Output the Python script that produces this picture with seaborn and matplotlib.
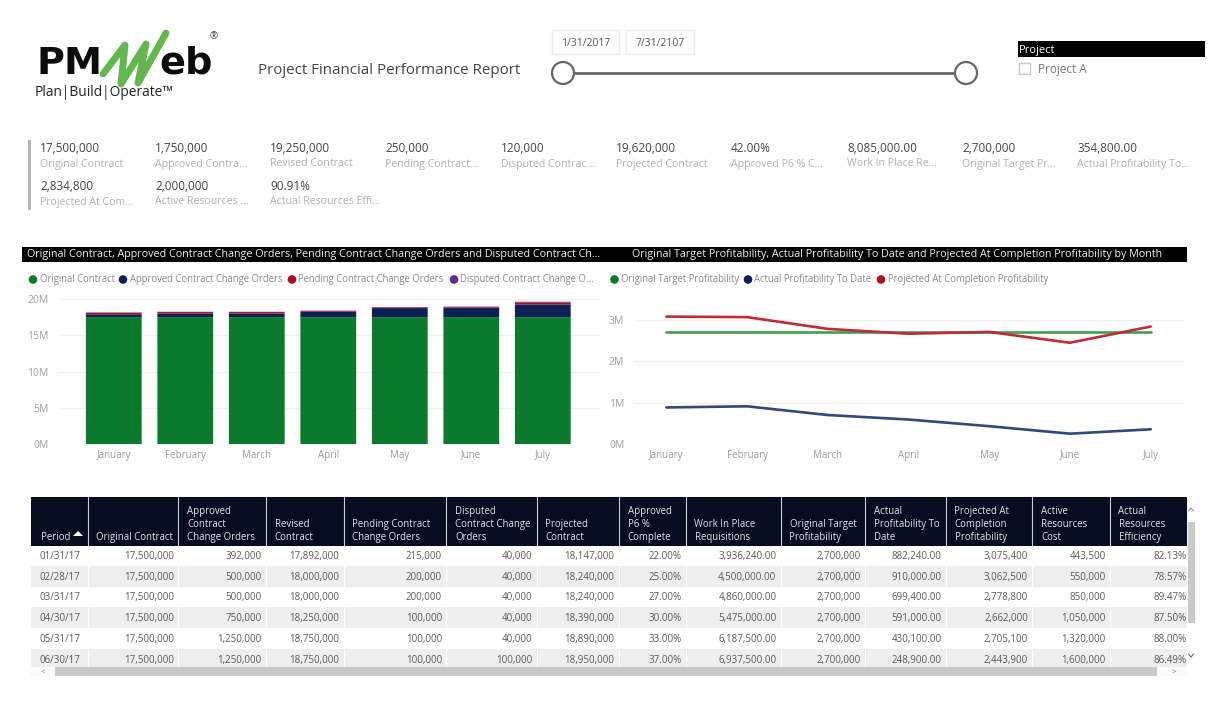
import pandas as pd
import matplotlib
matplotlib.use('Agg')
import matplotlib.pyplot as plt
from matplotlib.patches import Rectangle, Circle, Polygon
from matplotlib.ticker import FuncFormatter
import seaborn as sns

# chart data
months = ['January', 'February', 'March', 'April', 'May', 'June', 'July']
original_contract = [17500000] * 7
approved_co = [392000, 500000, 500000, 750000, 1250000, 1250000, 1750000]
pending_co = [215000, 200000, 200000, 100000, 100000, 100000, 250000]
disputed_co = [40000, 40000, 40000, 40000, 40000, 100000, 120000]

target_profit = [2700000] * 7
actual_profit = [882240, 910000, 699400, 591000, 430100, 248900, 354800]
projected_profit = [3075400, 3062500, 2778800, 2662000, 2705100, 2443900, 2834800]

# KPI cards
kpi_values = ['17,500,000', '1,750,000', '19,250,000', '250,000', '120,000', '19,620,000',
              '42.00%', '8,085,000.00', '2,700,000', '354,800.00',
              '2,834,800', '2,000,000', '90.91%']
kpi_labels = ['Original Contract', 'Approved Contra...', 'Revised Contract', 'Pending Contract...',
              'Disputed Contrac...', 'Projected Contract', 'Approved P6 % C...', 'Work In Place Re...',
              'Original Target Pr...', 'Actual Profitability To...',
              'Projected At Com...', 'Active Resources ...', 'Actual Resources Effi...']

# table
table_headers = ['Period', 'Original Contract', 'Approved\nContract\nChange Orders', 'Revised\nContract',
                 'Pending Contract\nChange Orders', 'Disputed\nContract Change\nOrders', 'Projected\nContract',
                 'Approved\nP6 %\nComplete', 'Work In Place\nRequisitions', 'Original Target\nProfitability',
                 'Actual\nProfitability To\nDate', 'Projected At\nCompletion\nProfitability',
                 'Active\nResources\nCost', 'Actual\nResources\nEfficiency']
table_rows = [
    ['01/31/17', '17,500,000', '392,000', '17,892,000', '215,000', '40,000', '18,147,000', '22.00%',
     '3,936,240.00', '2,700,000', '882,240.00', '3,075,400', '443,500', '82.13%'],
    ['02/28/17', '17,500,000', '500,000', '18,000,000', '200,000', '40,000', '18,240,000', '25.00%',
     '4,500,000.00', '2,700,000', '910,000.00', '3,062,500', '550,000', '78.57%'],
    ['03/31/17', '17,500,000', '500,000', '18,000,000', '200,000', '40,000', '18,240,000', '27.00%',
     '4,860,000.00', '2,700,000', '699,400.00', '2,778,800', '850,000', '89.47%'],
    ['04/30/17', '17,500,000', '750,000', '18,250,000', '100,000', '40,000', '18,390,000', '30.00%',
     '5,475,000.00', '2,700,000', '591,000.00', '2,662,000', '1,050,000', '87.50%'],
    ['05/31/17', '17,500,000', '1,250,000', '18,750,000', '100,000', '40,000', '18,890,000', '33.00%',
     '6,187,500.00', '2,700,000', '430,100.00', '2,705,100', '1,320,000', '88.00%'],
    ['06/30/17', '17,500,000', '1,250,000', '18,750,000', '100,000', '100,000', '18,950,000', '37.00%',
     '6,937,500.00', '2,700,000', '248,900.00', '2,443,900', '1,600,000', '86.49%'],
]

GREEN = '#0a7b2c'
NAVY = '#0b2253'
RED = '#b00a20'
PURPLE = '#5c2d91'
W, H = 1229, 707

sns.set_theme(style='white')
plt.rcParams['font.family'] = ['Open Sans', 'DejaVu Sans']

fig = plt.figure(figsize=(12.29, 7.07), dpi=100)

# page layer in pixel coordinates for the report furniture
page = fig.add_axes([0, 0, 1, 1])
page.set_xlim(0, W)
page.set_ylim(H, 0)
page.axis('off')


def chart_axes(left, top, right, bottom):
    return fig.add_axes([left / W, 1 - bottom / H, (right - left) / W, (bottom - top) / H], facecolor='none')


def box(x0, y0, x1, y1, **kw):
    page.add_patch(Rectangle((x0, y0), x1 - x0, y1 - y0, **kw))


# logo, the green W is a hand drawn swoosh
page.text(36, 74, 'PM', fontsize=27.5, fontweight='bold', color='#0c0c0c', family='DejaVu Sans', va='baseline')
page.text(159, 74, 'eb', fontsize=27.5, fontweight='bold', color='#0c0c0c', family='DejaVu Sans', va='baseline')
page.plot([103, 125, 121, 146, 138, 166], [74, 45, 84, 44, 83, 33], color='#62b84f', lw=5,
          solid_joinstyle='round', solid_capstyle='round', zorder=3)
page.text(209, 37, '®', fontsize=7, color='#444444', ha='left', va='center')
page.text(35, 93, 'Plan|Build|Operate™', fontsize=9.9, color='#222222', va='center')

page.text(258, 70, 'Project Financial Performance Report', fontsize=10.9, color='#444444', va='center')

# date slider
box(552, 30, 619, 54, fc='white', ec='#ececec', lw=1)
box(626, 30, 694, 54, fc='white', ec='#ececec', lw=1)
page.text(585.5, 43, '1/31/2017', fontsize=7.5, color='#555555', ha='center', va='center')
page.text(660, 43, '7/31/2107', fontsize=7.5, color='#555555', ha='center', va='center')
page.plot([563, 966], [73, 73], color='#666666', lw=2)
for cx in (563, 966):
    page.add_patch(Circle((cx, 73), 11, fc='white', ec='#666666', lw=1.6, zorder=3))

# project slicer
box(1018, 41, 1205, 57, fc='black', ec='none')
page.text(1019, 50, 'Project', fontsize=8, color='white', va='center')
box(1019, 63, 1030, 74, fc='white', ec='#c8c8c8', lw=1)
page.text(1038, 69, 'Project A', fontsize=8.5, color='#777777', va='center')

# KPI cards
box(28, 140, 30.5, 210, fc='#b4b4b4', ec='none')
kpi_x = [40, 155, 270, 385, 501, 616, 731, 847, 962, 1077]
for i, (val, lab) in enumerate(zip(kpi_values, kpi_labels)):
    x = kpi_x[i % 10]
    y = 148 if i < 10 else 186
    page.text(x, y, val, fontsize=8.5, color='#444444', va='center')
    page.text(x, y + 16, lab, fontsize=7.6, color='#b0b0b0', va='center')

# chart title bars
box(22, 247, 1187, 262, fc='black', ec='none')
page.text(27, 254.5, 'Original Contract, Approved Contract Change Orders, Pending Contract Change Orders and Disputed Contract Ch...',
          fontsize=7.75, color='#f0f0f0', va='center')
page.text(632, 254.5, 'Original Target Profitability, Actual Profitability To Date and Projected At Completion Profitability by Month',
          fontsize=7.75, color='#f0f0f0', va='center')

# legends
left_legend = [(33, 'Original Contract', GREEN), (123, 'Approved Contract Change Orders', NAVY),
               (292, 'Pending Contract Change Orders', RED), (454, 'Disputed Contract Change O...', PURPLE)]
right_legend = [(614.5, 'Original Target Profitability', GREEN), (748, 'Actual Profitability To Date', NAVY),
                (881, 'Projected At Completion Profitability', RED)]
for x, lab, col in left_legend + right_legend:
    page.add_patch(Circle((x, 279.5), 4.3, fc=col, ec='none'))
    page.text(x + 6.5, 279.5, lab, fontsize=6.85, color='#8a8a8a', va='center')

# stacked columns
ax1 = chart_axes(58, 299, 600, 444)
stack = pd.DataFrame({'month': months, 'Original': original_contract, 'Approved': approved_co,
                      'Pending': pending_co, 'Disputed': disputed_co})
running = pd.Series([0] * 7)
for col, colour in zip(['Original', 'Approved', 'Pending', 'Disputed'], [GREEN, NAVY, RED, PURPLE]):
    sns.barplot(data=stack, x='month', y=col, color=colour, saturation=1, width=0.78, ax=ax1, zorder=2,
                linewidth=0, edgecolor='none', bottom=running.values)
    running = running + stack[col]
# thin segments vanish when bars snap to whole pixels
for p in ax1.patches:
    p.set_snap(False)
ax1.set_xlim(-0.78, 6.8)
ax1.set_ylim(0, 20000000)
ax1.set_yticks([0, 5000000, 10000000, 15000000, 20000000])

# profitability lines
ax2 = chart_axes(634, 299, 1183, 444)
lines = pd.DataFrame({'idx': range(7), 'Original Target Profitability': target_profit,
                      'Actual Profitability To Date': actual_profit,
                      'Projected At Completion Profitability': projected_profit})
long = lines.melt(id_vars='idx', var_name='series', value_name='value')
sns.lineplot(data=long, x='idx', y='value', hue='series', ax=ax2, lw=1.9, legend=False, zorder=2,
             palette={'Original Target Profitability': '#3f9f4f', 'Actual Profitability To Date': '#2f4a78',
                      'Projected At Completion Profitability': '#bf2b37'})
ax2.set_xticks(range(7))
ax2.set_xticklabels(months)
ax2.set_xlim(-0.4, 6.4)
ax2.set_ylim(0, 3500000)
ax2.set_yticks([0, 1000000, 2000000, 3000000])

for ax in (ax1, ax2):
    sns.despine(ax=ax, left=True, bottom=True)
    ax.set_xlabel('')
    ax.set_ylabel('')
    ax.yaxis.set_major_formatter(FuncFormatter(lambda v, _: f'{v / 1e6:.0f}M'))
    ax.grid(axis='y', color='#f1f1f1', lw=1, zorder=0)
    ax.set_axisbelow(True)
    ax.tick_params(axis='x', length=0, pad=4, labelsize=7, labelcolor='#9a9a9a')
    ax.tick_params(axis='y', length=0, pad=7, labelsize=7.5, labelcolor='#a0a0a0')

# table
col_edges = [30.5, 87.5, 178, 265.5, 343.5, 446, 536.5, 618.5, 685.5, 780.5, 865, 945.5, 1032, 1109.5, 1187]
row_top = 545
row_h = 20.75
for r, row in enumerate(table_rows):
    y0 = row_top + r * row_h
    if r % 2 == 1:
        box(col_edges[0], y0, col_edges[-1], y0 + row_h, fc='#eeeeef', ec='none')
    for c, val in enumerate(row):
        if c == 0:
            page.text(39, y0 + row_h / 2 + 1, val, fontsize=7, color='#5a5a5a', va='center')
        else:
            page.text(col_edges[c + 1] - 4 + (4 if c == 13 else 0), y0 + row_h / 2 + 1, val, fontsize=7,
                      color='#5a5a5a', ha='right', va='center')
    if r % 2 == 1:
        for e in col_edges[1:-1]:
            page.plot([e, e], [y0, y0 + row_h], color='white', lw=0.8)

box(col_edges[0], 497, col_edges[-1], 546, fc='#060d20', ec='none', zorder=3)
for e in col_edges[1:-1]:
    page.plot([e, e], [497, 546], color='#c9ccd3', lw=0.8, zorder=4)
for c, head in enumerate(table_headers):
    page.text(col_edges[c] + (11 if c == 0 else 9), 543, head, fontsize=6.9, color='#e0e2e8', va='bottom',
              linespacing=1.25, zorder=5)
page.add_patch(Polygon([[73, 536], [83, 536], [78, 531]], fc='white', ec='none', zorder=5))

# scrollbars
box(30, 667, 1187, 676, fc='#fbfbfb', ec='none', zorder=5)
box(55, 667, 1157, 676, fc='#c9c9c9', ec='none', zorder=6)
box(1188, 522, 1195, 623, fc='#c9c9c9', ec='none')
page.text(43, 672, '<', fontsize=6, color='#777777', ha='center', va='center', zorder=6)
page.text(1174, 672, '>', fontsize=6, color='#777777', ha='center', va='center', zorder=6)
page.plot([1188.5, 1191, 1193.5], [511, 508, 511], color='#999999', lw=0.8)
page.plot([1188.5, 1191, 1193.5], [654, 657, 654], color='#666666', lw=0.8)

plt.savefig('out.png', dpi=100)
